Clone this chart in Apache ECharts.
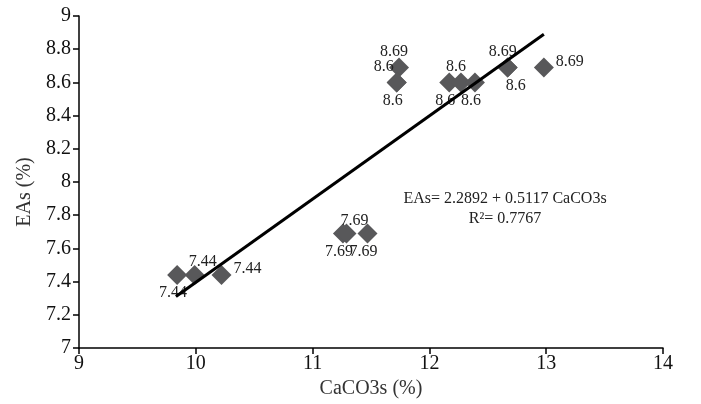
<!DOCTYPE html>
<html>
<head>
    <meta charset="utf-8">
    <title>EAs vs CaCO3s</title>
    <script src="https://cdn.jsdelivr.net/npm/echarts@6/dist/echarts.min.js"></script>
</head>
<body style="margin:0;">
<div id="main" style="width: 701px;height:404px;"></div>
<script type="text/javascript">
    // CaCO3s (%) and EAs (%)
    var caco3 = [9.84, 9.99, 10.22, 11.26, 11.29, 11.47, 11.74, 11.72, 11.72, 12.17, 12.27, 12.39, 12.67, 12.67, 12.98];
    var eas = [7.44, 7.44, 7.44, 7.69, 7.69, 7.69, 8.69, 8.6, 8.6, 8.6, 8.6, 8.6, 8.69, 8.69, 8.69];
    var labelText = ['7.44', '7.44', '7.44', '7.69', '7.69', '7.69', '8.69', '8.6', '8.6', '8.6', '8.6', '8.6', '8.69', '8.6', '8.69'];
    var labelPlace = ['below', 'aboveRight', 'right', 'below', 'aboveRight', 'below', 'above', 'aboveLeft', 'below', 'below', 'above', 'below', 'above', 'belowRight', 'right'];
    // trend line end points
    var trendX = [9.83, 12.98];
    var trendY = [7.31, 8.89];
    var xTicks = [9, 10, 11, 12, 13, 14];
    var yTicks = [7, 7.2, 7.4, 7.6, 7.8, 8, 8.2, 8.4, 8.6, 8.8, 9];
    var equation = 'EAs= 2.2892 + 0.5117 CaCO3s\nR²= 0.7767';

    var serif = "'Liberation Serif', 'Times New Roman', serif";
    var placeOffset = {
        above: [-5, -16],
        below: [-4, 18],
        right: [26, -6],
        aboveLeft: [-13, -16],
        aboveRight: [8, -13],
        belowRight: [8, 18]
    };

    var points = caco3.map(function (x, i) {
        return {
            value: [x, eas[i]],
            label: {
                formatter: labelText[i],
                offset: placeOffset[labelPlace[i]]
            }
        };
    });
    var trend = trendX.map(function (x, i) {
        return [x, trendY[i]];
    });

    var myChart = echarts.init(document.getElementById('main'));
    var option = {
        animation: false,
        textStyle: {fontFamily: serif},
        grid: {left: 79, right: 38, top: 16, bottom: 52},
        xAxis: {
            type: 'value',
            min: xTicks[0],
            max: xTicks[xTicks.length - 1],
            interval: 1,
            name: 'CaCO3s (%)',
            nameLocation: 'middle',
            nameGap: 31,
            nameTextStyle: {fontFamily: serif, fontSize: 20, color: '#333'},
            axisLine: {lineStyle: {color: '#000', width: 1.5}},
            axisTick: {show: true, length: 6, lineStyle: {color: '#000', width: 1.5}},
            axisLabel: {fontFamily: serif, fontSize: 20, color: '#111', margin: 6},
            splitLine: {show: false}
        },
        yAxis: {
            type: 'value',
            min: yTicks[0],
            max: yTicks[yTicks.length - 1],
            interval: 0.2,
            name: 'EAs (%)',
            nameLocation: 'middle',
            nameGap: 38,
            nameTextStyle: {fontFamily: serif, fontSize: 20, color: '#333', padding: [0, 0, 0, -20]},
            axisLine: {show: true, lineStyle: {color: '#000', width: 1.5}},
            axisTick: {show: true, length: 6, lineStyle: {color: '#000', width: 1.5}},
            axisLabel: {
                fontFamily: serif, fontSize: 20, color: '#111', margin: 8,
                formatter: function (v) {
                    return String(Math.round(v * 10) / 10);
                }
            },
            splitLine: {show: false}
        },
        series: [
            {
                type: 'scatter',
                data: points,
                symbol: 'diamond',
                symbolSize: 20,
                itemStyle: {color: '#58585a', opacity: 1},
                label: {
                    show: true,
                    position: 'inside',
                    fontFamily: serif,
                    fontSize: 16,
                    color: '#222'
                },
                z: 2
            },
            {
                type: 'line',
                data: trend,
                symbol: 'none',
                lineStyle: {color: '#000', width: 3},
                z: 3
            }
        ],
        graphic: [{
            type: 'text',
            x: 505,
            y: 189,
            style: {
                text: equation,
                font: "16px 'Liberation Serif', 'Times New Roman', serif",
                fill: '#222',
                textAlign: 'center',
                lineHeight: 20
            }
        }]
    };
    myChart.setOption(option);
</script>
</body>
</html>
